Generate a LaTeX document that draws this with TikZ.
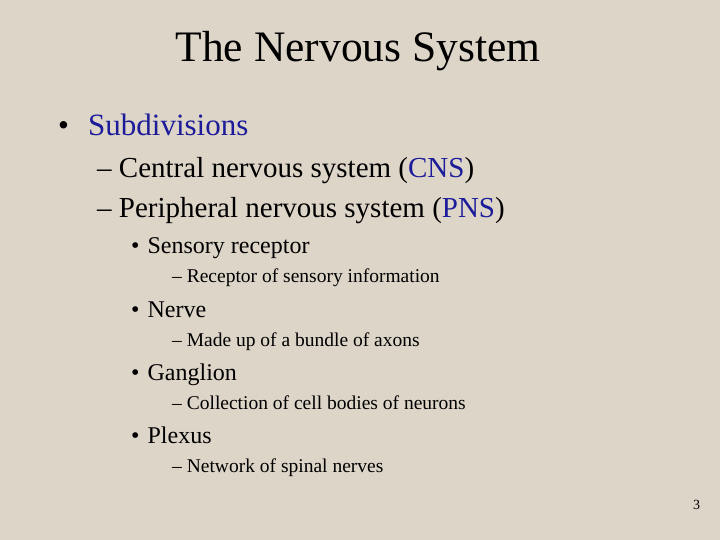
\documentclass[tikz,border=0pt]{standalone}
\usepackage{fontspec}
\setmainfont{Liberation Serif}
\definecolor{bg}{HTML}{DDD5C8}
\definecolor{hb}{HTML}{1C1C9A}
\begin{document}
\begin{tikzpicture}[x=1pt,y=-1pt,
  t/.style={anchor=base west,inner sep=0pt,text=black}]
\fill[bg] (0,0) rectangle (720,540);
\useasboundingbox (0,0) rectangle (720,540);
\node[anchor=base,inner sep=0pt,font=\fontsize{43.5}{48}\selectfont] (title) at (358,62) {The Nervous System};
\node[t,font=\fontsize{31}{34}\selectfont] (b1) at (58,136) {•};
\node[t,font=\fontsize{31}{34}\selectfont,text=hb] (sub) at (88,136) {Subdivisions};
\node[t,font=\fontsize{29}{32}\selectfont] (cns) at (97,178) {– Central nervous system (\textcolor{hb}{CNS})};
\node[t,font=\fontsize{29}{32}\selectfont] (pns) at (97,218) {– Peripheral nervous system (\textcolor{hb}{PNS})};
\node[t,font=\fontsize{24}{28}\selectfont] (s1) at (131,253) {•\hspace{8pt}Sensory receptor};
\node[t,font=\fontsize{19.5}{22}\selectfont] (s1a) at (172,282) {– Receptor of sensory information};
\node[t,font=\fontsize{24}{28}\selectfont] (s2) at (131,317) {•\hspace{8pt}Nerve};
\node[t,font=\fontsize{19.5}{22}\selectfont] (s2a) at (172,346) {– Made up of a bundle of axons};
\node[t,font=\fontsize{24}{28}\selectfont] (s3) at (131,380) {•\hspace{8pt}Ganglion};
\node[t,font=\fontsize{19.5}{22}\selectfont] (s3a) at (172,409) {– Collection of cell bodies of neurons};
\node[t,font=\fontsize{24}{28}\selectfont] (s4) at (131,443) {•\hspace{8pt}Plexus};
\node[t,font=\fontsize{19.5}{22}\selectfont] (s4a) at (172,472) {– Network of spinal nerves};
\node[t,font=\fontsize{14}{16}\selectfont] (pg) at (693,509) {3};
\end{tikzpicture}
\end{document}
